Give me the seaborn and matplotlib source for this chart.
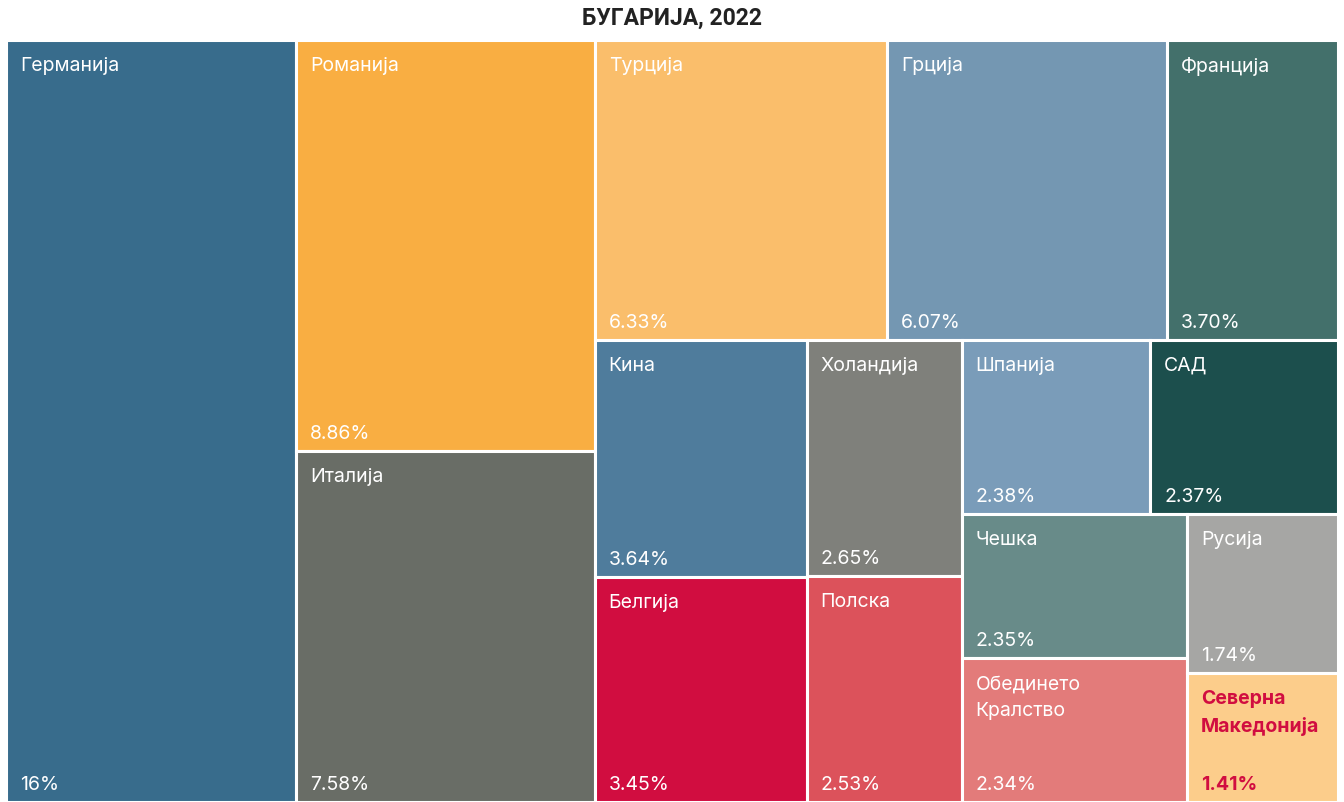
import matplotlib
matplotlib.use("Agg")
import matplotlib.pyplot as plt
from matplotlib.patches import Rectangle
import seaborn as sns

# data: share of Bulgaria's trade partners, 2022 (%)
countries = ["Германија", "Романија", "Италија", "Турција", "Грција", "Франција",
             "Кина", "Белгија", "Холандија", "Полска", "Шпанија", "САД",
             "Чешка", "Обединето\nКралство", "Русија", "Северна\nМакедонија"]
shares = [16, 8.86, 7.58, 6.33, 6.07, 3.70, 3.64, 3.45, 2.65, 2.53,
          2.38, 2.37, 2.35, 2.34, 1.74, 1.41]
colors = ["#386c8c", "#f9ae42", "#696d66", "#fabe6b", "#7497b2", "#43706b",
          "#4f7c9c", "#d10d40", "#7f807b", "#dc525b", "#7a9cb9", "#1c4f4d",
          "#688b89", "#e37b7a", "#a6a6a4", "#fccd8b"]
highlight = "Северна\nМакедонија"

# how many tiles go in each strip of the treemap
strip_sizes = [1, 2, 3, 2, 2, 2, 2, 2]


def strip_layout(vals, sizes, x, y, w, h):
    """Lay values out in strips; each strip runs along the shorter side."""
    rects = []
    total = sum(vals)
    i = 0
    vertical = True
    for k, n in enumerate(sizes):
        chunk = vals[i:i + n]
        s = sum(chunk)
        last = k == len(sizes) - 1
        if not last:
            vertical = w >= h
        if vertical:
            cw = w * s / total if not last else w
            yy = y
            for v in chunk:
                ch = h * v / s
                rects.append((x, yy, cw, ch))
                yy += ch
            x += cw
            w -= cw
        else:
            rh = h * s / total if not last else h
            xx = x
            for v in chunk:
                rw = w * v / s
                rects.append((xx, y, rw, rh))
                xx += rw
            y += rh
            h -= rh
        total -= s
        i += n
    return rects


sns.set_theme(style="white")
plt.rcParams["font.family"] = ["Inter", "DejaVu Sans"]

W, H = 1332, 762
fig = plt.figure(figsize=(13.44, 8.02), dpi=100)
ax = fig.add_axes([6 / 1344, 0, W / 1344, H / 802])
ax.set_xlim(0, W)
ax.set_ylim(H, 0)
ax.axis("off")

rects = strip_layout(shares, strip_sizes, 0, 0, W, H)
for name, val, col, (x, y, w, h) in zip(countries, shares, colors, rects):
    ax.add_patch(Rectangle((x, y), w, h, facecolor=col, edgecolor="white",
                           linewidth=2.2))
    label = f"{val:.2f}".replace(".00", "") + "%"
    if name == highlight:
        tc, fw = "#d10d40", "bold"
    else:
        tc, fw = "white", "normal"
    ax.text(x + 14, y + 17, name, color=tc, fontsize=14, fontweight=fw,
            va="top", ha="left", linespacing=1.6)
    ax.text(x + 14, y + h - 12, label, color=tc, fontsize=14, fontweight=fw,
            va="baseline", ha="left")

fig.text(0.5, 1 - 18 / 802, "БУГАРИЈА, 2022", ha="center", va="center",
         fontsize=16.5, fontweight="bold", color="#222222",
         family=["Roboto", "DejaVu Sans"])

fig.savefig("out.png", dpi=100)
